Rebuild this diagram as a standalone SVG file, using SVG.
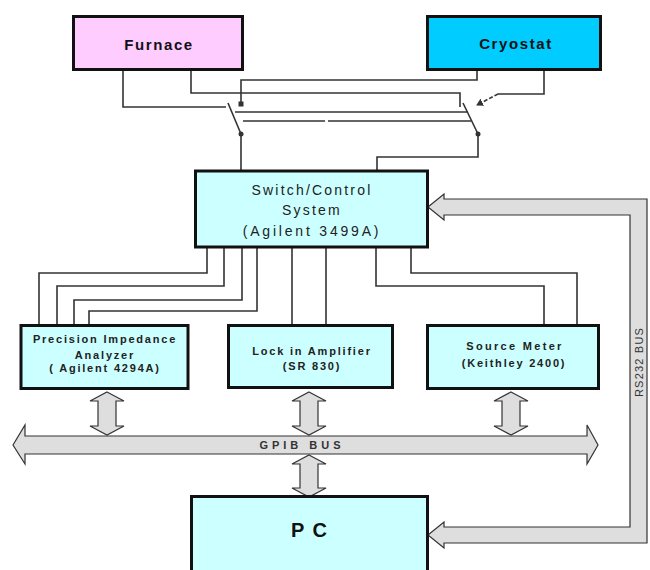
<svg xmlns="http://www.w3.org/2000/svg" width="650" height="570" viewBox="0 0 650 570">
<style>
.box{stroke:#111;stroke-width:3}
.w{fill:none;stroke:#333;stroke-width:1.6}
.bus{fill:#dedede;stroke:#333;stroke-width:1.2;stroke-linejoin:miter}
.big{font-family:"Liberation Sans",Arial,sans-serif;font-weight:bold;font-size:15px;fill:#111;text-anchor:middle;letter-spacing:1.6px}
.mid{font-family:"Liberation Sans",Arial,sans-serif;font-size:14px;fill:#222;text-anchor:middle;letter-spacing:2.2px}
.sm{font-family:"Liberation Sans",Arial,sans-serif;font-weight:bold;font-size:11px;fill:#222;text-anchor:middle;letter-spacing:1.8px}
.lbl{font-family:"Liberation Sans",Arial,sans-serif;font-size:11px;fill:#333;text-anchor:middle}
</style>
<defs>
<marker id="ah" markerWidth="8" markerHeight="8" refX="6" refY="4" orient="auto" markerUnits="userSpaceOnUse">
<path d="M0,0 L7,4 L0,8 Z" fill="#333"/>
</marker>
<path id="dbl" d="M0,0 L17,9 L9,9 L9,34 L17,34 L0,43 L-17,34 L-9,34 L-9,9 L-17,9 Z"/>
</defs>

<g id="connectors">
<!-- furnace / cryostat wiring and switches -->
<path class="w" d="M123,70 V107 H226"/>
<path class="w" d="M228,103 L241,134"/>
<circle cx="241" cy="134" r="2.5" fill="#333"/>
<path class="w" d="M241,134 V170"/>
<path class="w" d="M477,70 V80 H241 V103"/>
<rect x="238.5" y="101.5" width="5" height="5" fill="#333"/>
<path class="w" d="M191,70 V93 H460 V107"/>
<path class="w" d="M463,103 L478,134"/>
<circle cx="478" cy="134" r="2.5" fill="#333"/>
<path class="w" d="M478,134 V157 H377 V170"/>
<path class="w" d="M544,70 V94 H498"/>
<path class="w" d="M498,94 L477,105" stroke-dasharray="4,2" marker-end="url(#ah)"/>
<path class="w" d="M235,112 H468"/>
<path class="w" d="M243,121 H325 M328,121 H471"/>
<!-- switch to instruments -->
<path class="w" d="M207,248 V273 H39 V325"/>
<path class="w" d="M224,248 V286 H57 V325"/>
<path class="w" d="M242,248 V300 H74 V325"/>
<path class="w" d="M257,248 V311 H89 V325"/>
<path class="w" d="M292,248 V325"/>
<path class="w" d="M326,248 V325"/>
<path class="w" d="M376,248 V286 H544 V325"/>
<path class="w" d="M411,248 V273 H577 V325"/>
<!-- GPIB links -->
<use href="#dbl" class="bus" x="107" y="392"/>
<use href="#dbl" class="bus" x="309" y="392"/>
<use href="#dbl" class="bus" x="511" y="392"/>
<path class="bus" d="M309,455 L326,464 L318,464 L318,488 L326,488 L309,497 L292,488 L300,488 L300,464 L292,464 Z"/>
<!-- GPIB bus -->
<path class="bus" d="M13,445 L25,425 L25,436 L587,436 L587,425 L598,445 L587,464 L587,454 L25,454 L25,464 Z"/>
<text class="sm" x="302" y="449" style="letter-spacing:4px;fill:#333">GPIB BUS</text>
<!-- RS232 bus -->
<path class="bus" d="M428,207 L444,194 L444,199 L647,199 L647,543 L444,543 L444,548 L428,535 L444,522 L444,527 L630,527 L630,215 L444,215 L444,220 Z"/>
<text class="lbl" transform="translate(642.5,362) rotate(-90)" style="letter-spacing:1.2px">RS232 BUS</text>
</g>

<g id="furnace">
<rect class="box" x="73.5" y="16.5" width="169" height="53" fill="#ffccff"/>
<text class="big" x="159" y="50">Furnace</text>
</g>
<g id="cryostat">
<rect class="box" x="427.5" y="16.5" width="173" height="53" fill="#00ccff"/>
<text class="big" x="516" y="49">Cryostat</text>
</g>
<g id="switch">
<rect class="box" x="195.5" y="171" width="232" height="76" fill="#ccffff"/>
<text class="mid" x="312" y="195">Switch/Control</text>
<text class="mid" x="312" y="215">System</text>
<text class="mid" x="312" y="236" style="letter-spacing:2.8px">(Agilent 3499A)</text>
</g>
<g id="impedance">
<rect class="box" x="21" y="325.5" width="167" height="63" fill="#ccffff"/>
<text class="sm" x="105" y="343">Precision Impedance</text>
<text class="sm" x="105" y="359">Analyzer</text>
<text class="sm" x="105" y="372">( Agilent 4294A)</text>
</g>
<g id="lockin">
<rect class="box" x="228.5" y="325.5" width="164" height="62" fill="#ccffff"/>
<text class="sm" x="312" y="355">Lock in Amplifier</text>
<text class="sm" x="312" y="370">(SR 830)</text>
</g>
<g id="sourcemeter">
<rect class="box" x="427.5" y="325.5" width="171" height="63" fill="#ccffff"/>
<text class="sm" x="515" y="350" style="letter-spacing:2.3px">Source Meter</text>
<text class="sm" x="514" y="367">(Keithley 2400)</text>
</g>
<g id="pc">
<rect class="box" x="191.5" y="496.5" width="236" height="80" fill="#ccffff"/>
<text class="big" x="313" y="537" style="font-size:20px;letter-spacing:8px">PC</text>
</g>
</svg>
